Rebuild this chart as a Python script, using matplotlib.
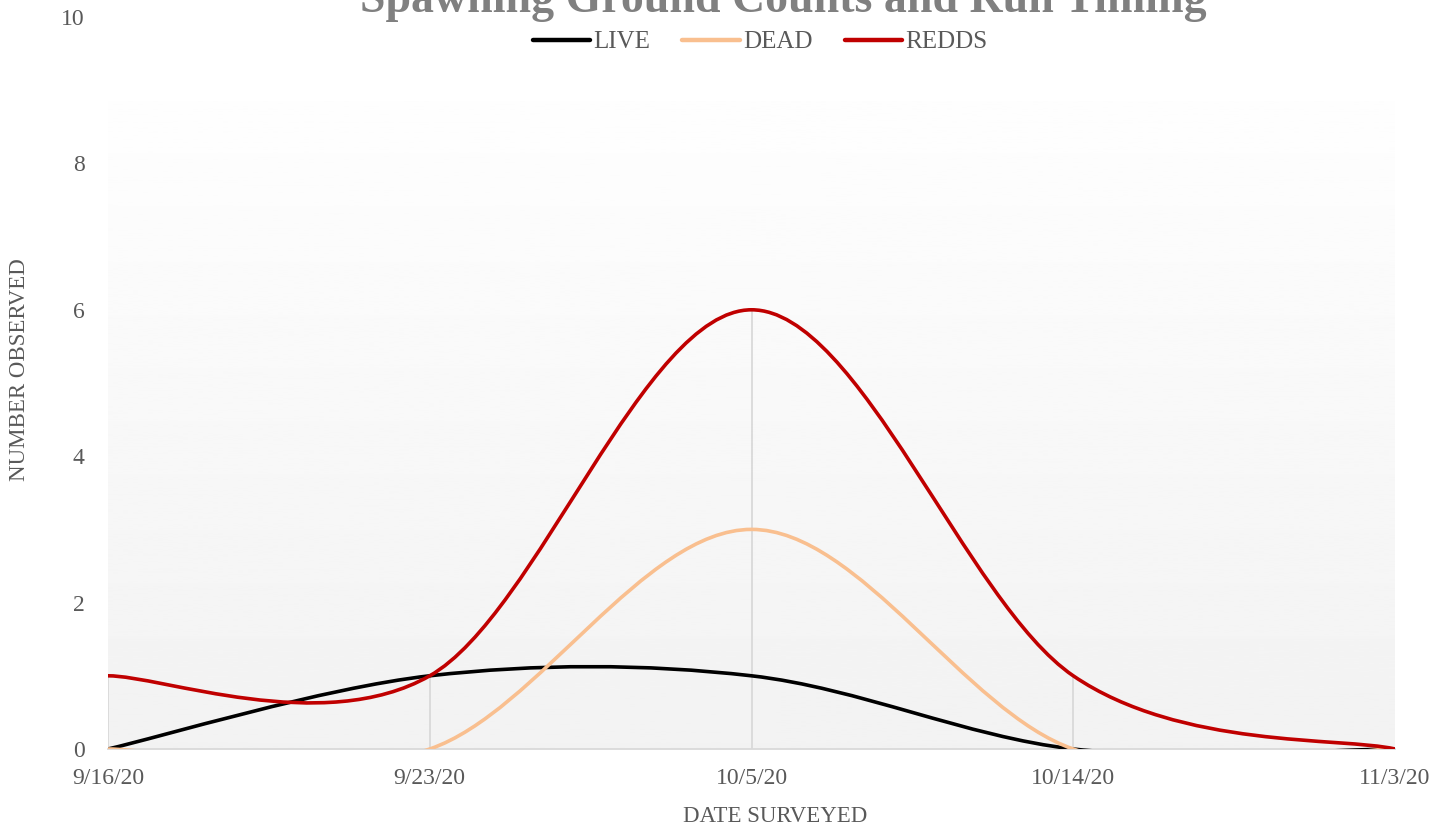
import matplotlib
matplotlib.use("Agg")
import matplotlib.pyplot as plt
import numpy as np
from matplotlib.path import Path
from matplotlib.patches import PathPatch
from matplotlib.lines import Line2D

plt.rcParams["font.family"] = ["Liberation Serif", "DejaVu Serif"]

# data
dates = ["9/16/20", "9/23/20", "10/5/20", "10/14/20", "11/3/20"]
live = [0, 1, 1, 0, 0]
dead = [0, 0, 3, 0, 0]
redds = [1, 1, 6, 1, 0]
series_names = ["LIVE", "DEAD", "REDDS"]
series_colors = ["#000000", "#f9bf8f", "#c00000"]
y_ticks = [0, 2, 4, 6, 8, 10]

TXT = "#595959"


def smooth_path(xs, ys):
    """Excel-like smoothed line: cubic Bezier through the points (Catmull-Rom)."""
    pts = np.column_stack([xs, ys]).astype(float)
    n = len(pts)
    verts = [pts[0]]
    codes = [Path.MOVETO]
    for i in range(n - 1):
        p0 = pts[max(i - 1, 0)]
        p1 = pts[i]
        p2 = pts[i + 1]
        p3 = pts[min(i + 2, n - 1)]
        c1 = p1 + (p2 - p0) / 6.0
        c2 = p2 - (p3 - p1) / 6.0
        verts += [c1, c2, p2]
        codes += [Path.CURVE4] * 3
    return Path(verts, codes)


W, H = 1439, 826
fig = plt.figure(figsize=(W / 100, H / 100), dpi=100)
ax = fig.add_axes([108 / W, 77 / H, 1287 / W, 732 / H])
ax.set_facecolor("none")

# gradient plot-area background
grad = np.linspace(0.949, 0.996, 256).reshape(-1, 1)
ax.imshow(grad, cmap="gray", vmin=0, vmax=1, origin="lower", aspect="auto",
          extent=(0, 1, 0, 648 / 732), transform=ax.transAxes, zorder=0)

x = np.arange(len(dates))
all_series = [live, dead, redds]

# drop lines to the highest value at each date
tops = np.max(np.array(all_series), axis=0)
ax.vlines(x, 0, tops, color="#d9d9d9", lw=1.3, zorder=1)

for vals, col in zip(all_series, series_colors):
    ax.add_patch(PathPatch(smooth_path(x, vals), fill=False, edgecolor=col,
                           lw=2.6, capstyle="round", zorder=3))

ax.set_xlim(0, len(dates) - 1)
ax.set_ylim(0, 10)
ax.set_xticks(x)
ax.set_xticklabels(dates)
ax.set_yticks(y_ticks)
ax.tick_params(axis="both", length=0, labelsize=17, labelcolor=TXT)
ax.tick_params(axis="x", pad=14)
ax.tick_params(axis="y", pad=17)

for s in ("top", "right", "left"):
    ax.spines[s].set_visible(False)
ax.spines["bottom"].set_color("#d9d9d9")
ax.spines["bottom"].set_linewidth(1.3)

fig.text(775 / W, 1 - 817 / H, "DATE SURVEYED", ha="center", va="center",
         fontsize=16.5, color=TXT)
fig.text(20 / W, 1 - 370 / H, "NUMBER OBSERVED", ha="center", va="center",
         rotation=90, fontsize=16.5, color=TXT)

fig.text(783 / W, 1 - 12 / H, "Spawning Ground Counts and Run Timing",
         ha="center", va="baseline", fontsize=33, fontweight="bold",
         color="#808080")

handles = [Line2D([], [], color=c, lw=3.2, solid_capstyle="round")
           for c in series_colors]
fig.legend(handles, series_names, loc="center", ncol=3, frameon=False,
           bbox_to_anchor=(760 / W, 1 - 42 / H), fontsize=18,
           labelcolor=TXT, handlelength=2.3, handletextpad=0.12,
           columnspacing=1.3)

fig.savefig("out.png", dpi=100)
